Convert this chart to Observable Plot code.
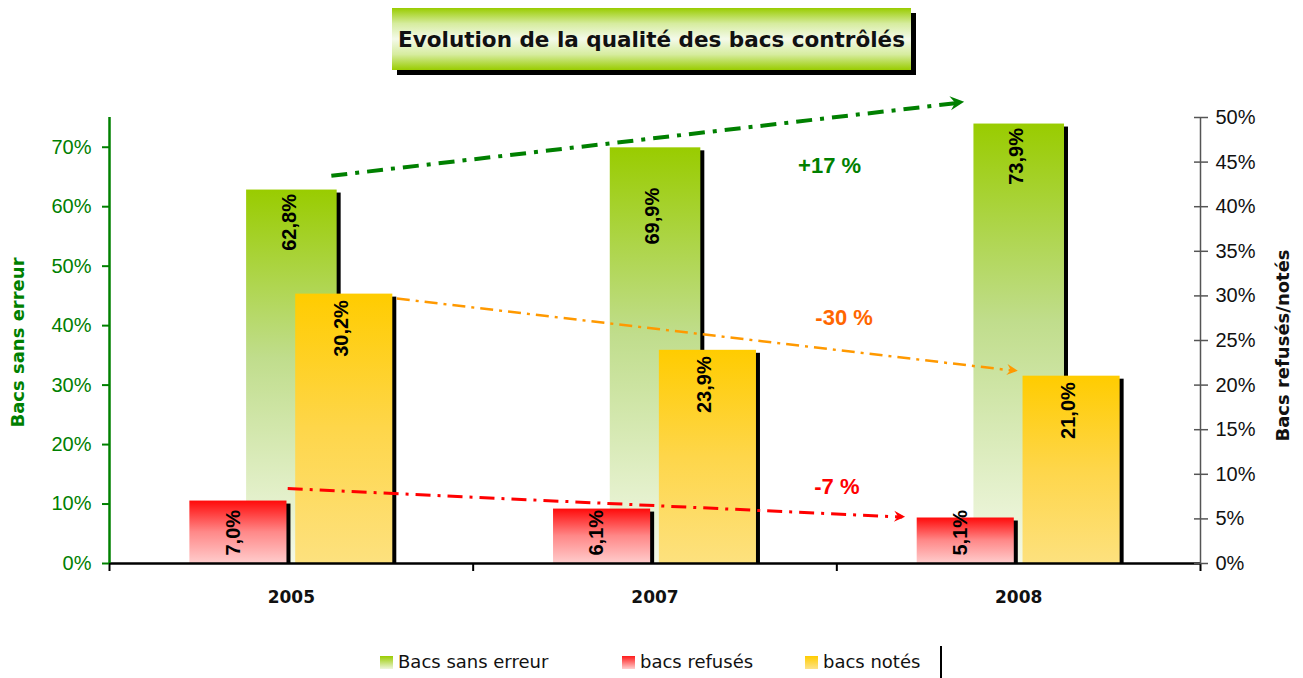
<!DOCTYPE html>
<html>
<head>
<meta charset="utf-8">
<script src="https://cdn.jsdelivr.net/npm/d3@7"></script>
<script src="https://cdn.jsdelivr.net/npm/@observablehq/plot@0.6"></script>
<style>
  body { margin: 0; background: #fff; width: 1303px; height: 678px; overflow: hidden; font-family: "DejaVu Sans", sans-serif; }
  #title { position: relative; height: 90px; }
  #title .box { position: absolute; left: 392px; top: 8px; width: 519px; height: 62px;
    background: linear-gradient(#99cc00 0%, #d6ec9e 25%, #f4faea 50%, #d6ec9e 75%, #99cc00 100%);
    box-shadow: 5px 5px 0 #000; display: flex; align-items: center; justify-content: center;
    font-weight: bold; font-size: 21.5px; color: #111; }
  #chart { height: 555px; }
  #legend { position: relative; height: 33px; font-size: 18px; color: #111; }
  #legend .sw { position: absolute; top: 11px; width: 13px; height: 13px; }
  #legend .lb { position: absolute; top: 6px; line-height: 22px; white-space: nowrap; }
  #legend .bar { position: absolute; left: 940px; top: 1px; width: 2px; height: 32px; background: #000; }
</style>
</head>
<body>
<div id="title"><div class="box">Evolution de la qualité des bacs contrôlés</div></div>
<div id="chart"></div>
<div id="legend"></div>
<script>
// ---------- data ----------
const years = ["2005", "2007", "2008"];
const sansErreur = [62.8, 69.9, 73.9];   // left axis (%)
const refuses = [7.0, 6.1, 5.1];         // right axis (%)
const notes = [30.2, 23.9, 21.0];        // right axis (%)
const leftTicks = [0, 10, 20, 30, 40, 50, 60, 70];
const rightTicks = [0, 5, 10, 15, 20, 25, 30, 35, 40, 45, 50];
const trendLabels = ["+17 %", "-30 %", "-7 %"];
const seriesNames = ["Bacs sans erreur", "bacs refusés", "bacs notés"];
const leftTitle = "Bacs sans erreur";
const rightTitle = "Bacs refusés/notés";

// ---------- layout / styling ----------
const leftMax = 75, rightMax = 50, k = leftMax / rightMax; // right-axis values mapped to left units
const fmt = v => v.toFixed(1).replace(".", ",") + "%";
const GREEN = "#008000";
// bar extents relative to the category centre (in category units)
const greenSpan = [-0.123, 0.126], redSpan = [-0.279, -0.012], yellowSpan = [0.012, 0.279];
const greenLabelDy = [4, 40, 4];
// annotation arrows (x in category index units, y in axis %)
const trends = [
  {x1: 0.11, y1: 65.2, x2: 1.84, y2: 77.5, color: GREEN, w: 4, dash: "16,8,4,8", head: 14},
  {x1: 0.29, y1: 29.7 * k, x2: 1.99, y2: 21.6 * k, color: "#ff9900", w: 2.5, dash: "13,6,3,6", head: 11},
  {x1: -0.01, y1: 8.4 * k, x2: 1.68, y2: 5.2 * k, color: "#ff0000", w: 3, dash: "15,7,3,7", head: 11}
];
const trendPos = [
  {x: 1.48, y: 66.9, color: GREEN},
  {x: 1.52, y: 27.5 * k, color: "#ff6600"},
  {x: 1.50, y: 8.6 * k, color: "#ff0000"}
];

const greenData = years.map((y, i) => ({i, v: sansErreur[i], label: fmt(sansErreur[i])}));
const redData = years.map((y, i) => ({i, v: refuses[i] * k, label: fmt(refuses[i])}));
const yellowData = years.map((y, i) => ({i, v: notes[i] * k, label: fmt(notes[i])}));
const labelData = trendLabels.map((t, i) => ({t, ...trendPos[i]}));

const defs = () => {
  const g = d3.create("svg:defs");
  const grad = (id, stops) => {
    const lg = g.append("linearGradient").attr("id", id).attr("x1", 0).attr("y1", 0).attr("x2", 0).attr("y2", 1);
    stops.forEach(([o, c]) => lg.append("stop").attr("offset", o).attr("stop-color", c));
  };
  grad("gGreen", [[0, "#99cc00"], [0.45, "#c0dd8c"], [1, "#f4f9e8"]]);
  grad("gRed", [[0, "#ff0a0a"], [0.5, "#ff8888"], [1, "#ffcccc"]]);
  grad("gYellow", [[0, "#ffcc00"], [0.5, "#fed64a"], [1, "#fde17e"]]);
  return g.node();
};

const bars = (data, span, fill) => [
  Plot.rect(data, {x1: d => d.i + span[0], x2: d => d.i + span[1], y1: 0, y2: "v", fill: "#000", dx: 4, insetTop: 3}),
  Plot.rect(data, {x1: d => d.i + span[0], x2: d => d.i + span[1], y1: 0, y2: "v", fill})
];

const heads = (index, scales) => {
  const g = d3.create("svg:g");
  for (const t of trends) {
    const X1 = scales.x(t.x1), Y1 = scales.y(t.y1), X2 = scales.x(t.x2), Y2 = scales.y(t.y2);
    const a = Math.atan2(Y2 - Y1, X2 - X1) * 180 / Math.PI;
    const h = t.head;
    g.append("path")
      .attr("d", `M${h * 0.3},0L${-h * 0.7},${-h * 0.5}L${-h * 0.35},0L${-h * 0.7},${h * 0.5}Z`)
      .attr("transform", `translate(${X2},${Y2}) rotate(${a})`)
      .attr("fill", t.color);
  }
  return g.node();
};

const labelFont = {fontFamily: "Liberation Sans, Arial, sans-serif", fontWeight: "bold", fontSize: 20, fill: "#000", rotate: -90};

const chart = Plot.plot({
  width: 1303,
  height: 555,
  marginTop: 27,
  marginBottom: 82,
  marginLeft: 109,
  marginRight: 103,
  x: {domain: [-0.5, 2.5], axis: null},
  y: {domain: [0, leftMax], axis: null},
  style: {fontFamily: "Liberation Sans, Arial, sans-serif", fontSize: "20px", background: "#fff", overflow: "visible"},
  marks: [
    defs,
    ...bars(greenData, greenSpan, "url(#gGreen)"),
    ...bars(redData, redSpan, "url(#gRed)"),
    ...bars(yellowData, yellowSpan, "url(#gYellow)"),
    // value labels
    Plot.text(greenData, {x: d => d.i, y: "v", text: "label", textAnchor: "end", dx: -2, ...labelFont}),
    Plot.text(redData, {x: d => d.i + (redSpan[0] + redSpan[1]) / 2, y: 0, text: "label", textAnchor: "start", dy: -8, dx: -5, ...labelFont}),
    Plot.text(yellowData, {x: d => d.i + (yellowSpan[0] + yellowSpan[1]) / 2, y: "v", text: "label", textAnchor: "end", dy: 6, dx: -3, ...labelFont}),
    // trend lines
    Plot.link(trends, {x1: "x1", y1: "y1", x2: "x2", y2: "y2", stroke: d => d.color, strokeWidth: d => d.w}),
    heads,
    Plot.text(labelData, {x: "x", y: "y", text: "t", fill: d => d.color, fontFamily: "Liberation Sans, Arial, sans-serif", fontWeight: "bold", fontSize: 22}),
    // axes
    Plot.ruleY([0], {stroke: "#000", strokeWidth: 2.5}),
    Plot.axisX([-0.5, 0.5, 1.5, 2.5], {tickSize: 8, tickFormat: () => "", stroke: "#000", strokeWidth: 2, label: null}),
    Plot.axisX([0, 1, 2], {tickSize: 0, tickPadding: 27, tickFormat: i => years[i], fontFamily: "DejaVu Sans", fontWeight: "bold", fontSize: 17, fill: "#111", label: null}),
    Plot.ruleX([-0.5], {stroke: GREEN, strokeWidth: 2.5}),
    Plot.axisY(leftTicks, {anchor: "left", tickSize: 7, tickPadding: 11, tickFormat: d => d + "%", color: GREEN, strokeWidth: 2, label: null}),
    Plot.ruleX([2.5], {stroke: "#555", strokeWidth: 1.5}),
    Plot.axisY(rightTicks.map(v => v * k), {anchor: "right", tickSize: 7, tickPadding: 8, tickFormat: d => Math.round(d / k) + "%", stroke: "#555", fill: "#111", strokeWidth: 1.5, label: null}),
    Plot.axisY(rightTicks.map(v => v * k), {anchor: "right", tickSize: 7, dx: -7, tickFormat: () => "", stroke: "#555", strokeWidth: 1.5, label: null}),
    // axis titles
    Plot.text([leftTitle], {frameAnchor: "left", text: d => d, textAnchor: "middle", dx: -91, dy: 2, rotate: -90, fill: GREEN, fontFamily: "DejaVu Sans", fontWeight: "bold", fontSize: 18}),
    Plot.text([rightTitle], {frameAnchor: "right", text: d => d, textAnchor: "middle", dx: 83, dy: 5, rotate: -90, fill: "#111", fontFamily: "DejaVu Sans", fontWeight: "bold", fontSize: 18})
  ]
});

// dash patterns for trend lines
d3.select(chart).selectAll("[aria-label=link] line, [aria-label=link] path").each(function (d, j) {
  d3.select(this).attr("stroke-dasharray", trends[j] ? trends[j].dash : null);
});
document.getElementById("chart").appendChild(chart);

// green labels with their own offsets
d3.select(chart).selectAll("[aria-label=text]").filter((d, j) => j === 0).selectAll("text").each(function (d, j) {
  const t = d3.select(this);
  t.attr("transform", t.attr("transform").replace(/translate\(([^,]+),([^)]+)\)/, (m, a, b) => `translate(${a},${+b + greenLabelDy[j]})`));
});

// legend
const legend = d3.select("#legend");
const sw = [["#99cc00", "#eef6dc"], ["#ff1a1a", "#ffd0d0"], ["#ffcc00", "#fde38a"]];
const pos = [[380, 398], [622, 640], [805, 823]];
seriesNames.forEach((n, i) => {
  legend.append("div").attr("class", "sw").style("left", pos[i][0] + "px")
    .style("background", `linear-gradient(${sw[i][0]}, ${sw[i][1]})`);
  legend.append("div").attr("class", "lb").style("left", pos[i][1] + "px").text(n);
});
legend.append("div").attr("class", "bar");
</script>
</body>
</html>
